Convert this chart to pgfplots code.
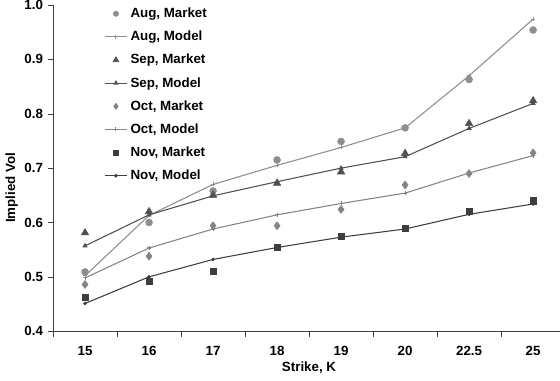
\documentclass[border=0pt]{standalone}
\usepackage{pgfplots}
\pgfplotsset{compat=1.18}
\usepackage{fontspec}
\setmainfont{Liberation Sans}
\definecolor{cAug}{HTML}{8E8E8E}
\definecolor{cSep}{HTML}{505050}
\definecolor{cOct}{HTML}{848484}
\definecolor{cNov}{HTML}{3E3E3E}
\begin{document}
\begin{tikzpicture}
\useasboundingbox (-39.75pt,-36.75pt) rectangle (380pt,248.25pt);
\begin{axis}[
  scale only axis,
  width=380pt, height=244.5pt,
  xmin=-0.5, xmax=7.42,
  ymin=0.4, ymax=1.0,
  axis x line*=bottom, axis y line*=left,
  axis line style={-, black!75},
  xtick={0,1,2,3,4,5,6,7},
  xticklabels={15,16,17,18,19,20,22.5,25},
  major x tick style={draw=none},
  minor xtick={-0.5,0.5,1.5,2.5,3.5,4.5,5.5,6.5},
  minor x tick style={black!75},
  minor tick length=4pt,
  ytick={0.4,0.5,0.6,0.7,0.8,0.9,1.0},
  y tick style={black!75},
  major tick length=4pt,
  tick align=outside,
  yticklabel style={/pgf/number format/.cd, fixed, fixed zerofill, precision=1},
  /pgf/number format/assume math mode=true,
  tick label style={font=\bfseries},
  xticklabel style={yshift=-4pt},
  xlabel={\bfseries Strike, K},
  ylabel={\bfseries Implied Vol},
  xlabel style={at={(rel axis cs:0.505,0)}, anchor=center, yshift=-27pt},
  ylabel style={at={(ticklabel cs:0.44)}, yshift=-2pt},
  legend style={draw=none, fill=none, at={(0.1,1.0)}, anchor=north west,
    font=\bfseries, row sep=4.6pt, inner sep=0pt},
  legend cell align=left,
]
\addplot[only marks, mark=*, mark size=2.6pt, color=cAug, legend image post style={mark size=2pt}] coordinates {
 (0,0.509) (1,0.600) (2,0.658) (3,0.715) (4,0.749) (5,0.774) (6,0.863) (7,0.954)};
\addlegendentry{Aug, Market}
\addplot[color=cAug, thick, mark=+, mark size=1.5pt] coordinates {
 (0,0.502) (1,0.613) (2,0.670) (3,0.705) (4,0.738) (5,0.774) (6,0.870) (7,0.974)};
\addlegendentry{Aug, Model}
\addplot[only marks, mark=triangle*, mark size=3.2pt, color=cSep, legend image post style={mark size=2.5pt}] coordinates {
 (0,0.581) (1,0.620) (2,0.650) (3,0.672) (4,0.693) (5,0.727) (6,0.782) (7,0.824)};
\addlegendentry{Sep, Market}
\addplot[color=cSep, thick, mark=triangle*, mark size=1.5pt] coordinates {
 (0,0.557) (1,0.614) (2,0.649) (3,0.675) (4,0.700) (5,0.721) (6,0.773) (7,0.819)};
\addlegendentry{Sep, Model}
\addplot[only marks, mark=diamond*, mark size=3pt, color=cOct, legend image post style={mark size=2.3pt}] coordinates {
 (0,0.486) (1,0.538) (2,0.594) (3,0.594) (4,0.624) (5,0.669) (6,0.690) (7,0.728)};
\addlegendentry{Oct, Market}
\addplot[color=cOct, thick, mark=+, mark size=1.5pt] coordinates {
 (0,0.498) (1,0.553) (2,0.588) (3,0.614) (4,0.635) (5,0.654) (6,0.691) (7,0.723)};
\addlegendentry{Oct, Model}
\addplot[only marks, mark=square*, mark size=2.3pt, color=cNov, legend image post style={mark size=1.8pt}] coordinates {
 (0,0.463) (1,0.492) (2,0.510) (3,0.555) (4,0.574) (5,0.590) (6,0.620) (7,0.640)};
\addlegendentry{Nov, Market}
\addplot[color=cNov, thick, mark=*, mark size=0.9pt] coordinates {
 (0,0.451) (1,0.500) (2,0.532) (3,0.554) (4,0.573) (5,0.588) (6,0.615) (7,0.634)};
\addlegendentry{Nov, Model}
\end{axis}
\end{tikzpicture}
\end{document}
